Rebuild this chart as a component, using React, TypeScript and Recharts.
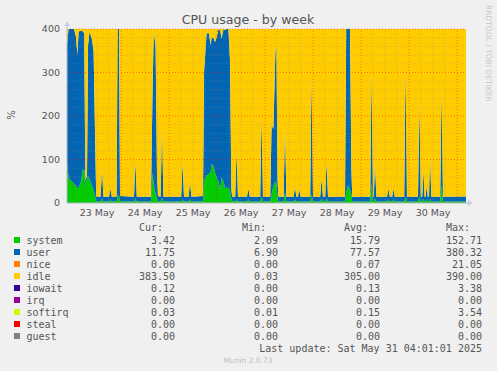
import React from "react";
import { AreaChart, Area, XAxis, YAxis, ReferenceLine } from "recharts";

// hours since 22 May 21:00 (one pixel = half an hour)
const HOURS = [
  0, 0.8, 2, 3.5, 4.5, 5.2, 5.8, 7, 7.8, 8.6, 9.2, 10, 10.5, 11.3, 12.5, 13.3, 14, 14.6,
  16.8, 17.5, 18.2, 21, 21.7, 22.4, 24.8, 25.3, 26, 26.5, 33.5, 34.2, 34.9,
  42, 42.8, 43.4, 44.3, 45, 45.5, 46.8, 47.5, 48.2, 57.1, 57.8, 58.5, 60.8, 61.5, 62.2,
  68, 68.5, 69.8, 71, 71.8, 72.3, 73.2, 74, 74.8, 75.7, 76.5, 77.3, 78.2, 79, 80, 80.7, 81.5, 82.2, 82.7,
  84.1, 84.8, 85.5, 90, 90.7, 91.4, 96.6, 97.3, 98, 101.6, 102.3, 103.2, 104.2, 104.7, 105.3, 105.8,
  108.3, 109, 109.7, 113.3, 114, 114.7, 115.5, 116.1, 116.8,
  121.6, 122.3, 123, 126.6, 127.3, 128, 129.1, 129.8, 130.5, 139, 139.6, 140.5, 141.5, 142.2, 142.6,
  151.6, 152.3, 153, 153.4, 154, 154.7, 160, 160.7, 161.4, 162.6, 163.2, 163.9, 168.6, 169.3, 170,
  175.5, 176.2, 176.9, 177.6, 178.2, 178.8, 179.3, 179.8, 180.4, 181, 181.5, 182.2, 186.6, 187.3, 188, 199.5,
];

const SYSTEM = [
  95, 58, 52, 45, 38, 35, 34, 50, 75, 78, 42, 55, 62, 55, 40, 30, 18, 4,
  3.5, 10, 3.5, 3.5, 8, 3.5, 4, 18, 16, 4, 3.5, 10, 3.5,
  3.5, 70, 40, 22, 10, 4, 3.5, 12, 3.5, 3.5, 8, 3.5, 3.5, 8, 3.5,
  4, 50, 63, 68, 70, 90, 85, 70, 58, 50, 30, 58, 50, 35, 35, 35, 30, 10, 3.5,
  3.5, 8, 3.5, 3.5, 8, 3.5, 3.5, 15, 3.5, 3.5, 20, 40, 50, 45, 10, 3.5,
  3.5, 25, 3.5, 3.5, 8, 3.5, 3.5, 6, 3.5,
  3.5, 20, 3.5, 3.5, 10, 3.5, 3.5, 10, 3.5, 3.5, 25, 40, 30, 20, 3.5,
  3.5, 45, 3.5, 3.5, 10, 3.5, 3.5, 8, 3.5, 3.5, 8, 3.5, 3.5, 15, 3.5,
  3.5, 15, 3.5, 3.5, 10, 3.5, 3.5, 8, 3.5, 3.5, 10, 3.5, 3.5, 40, 3.5, 3.4,
];

const USER = [
  270, 342, 348, 355, 344, 305, 360, 346, 320, 312, 10, 8, 300, 340, 336, 320, 150, 11,
  11, 70, 11, 11, 25, 11, 11, 382, 384, 12, 11, 85, 11,
  11, 200, 355, 338, 60, 12, 11, 160, 11, 11, 85, 11, 11, 40, 11,
  12, 250, 327, 322, 292, 290, 295, 300, 322, 348, 368, 320, 348, 363, 365, 365, 300, 20, 11,
  11, 110, 11, 11, 25, 11, 11, 185, 11, 11, 160, 130, 300, 315, 40, 11,
  11, 150, 11, 11, 28, 11, 11, 25, 11,
  11, 275, 11, 11, 45, 11, 11, 85, 11, 11, 375, 360, 370, 60, 11,
  11, 255, 11, 11, 80, 11, 11, 25, 11, 11, 25, 11, 11, 300, 11,
  11, 215, 11, 11, 65, 11, 11, 30, 11, 11, 95, 11, 11, 220, 11, 11.8,
];

const IDLE = [
  35, 0, 0, 0, 18, 60, 6, 4, 5, 10, 348, 337, 38, 5, 24, 50, 232, 385,
  385.5, 320, 385.5, 385.5, 367, 385.5, 385, 0, 0, 384, 385.5, 305, 385.5,
  385.5, 130, 5, 40, 330, 384, 385.5, 228, 385.5, 385.5, 307, 385.5, 385.5, 352, 385.5,
  384, 100, 10, 10, 38, 20, 20, 30, 20, 2, 2, 22, 2, 2, 0, 0, 70, 370, 385.5,
  385.5, 282, 385.5, 385.5, 367, 385.5, 385.5, 200, 385.5, 385.5, 220, 230, 50, 40, 350, 385.5,
  385.5, 225, 385.5, 385.5, 364, 385.5, 385.5, 369, 385.5,
  385.5, 105, 385.5, 385.5, 345, 385.5, 385.5, 305, 385.5, 385.5, 0, 0, 0, 320, 385.5,
  385.5, 100, 385.5, 385.5, 310, 385.5, 385.5, 367, 385.5, 385.5, 367, 385.5, 385.5, 85, 385.5,
  385.5, 170, 385.5, 385.5, 325, 385.5, 385.5, 362, 385.5, 385.5, 295, 385.5, 385.5, 140, 385.5, 384.8,
];

// day labels sit at noon
const DAY_TICKS = [15, 39, 63, 87, 111, 135, 159, 183];
const DAY_LABELS = ["23 May", "24 May", "25 May", "26 May", "27 May", "28 May", "29 May", "30 May"];
const Y_TICKS = [0, 100, 200, 300, 400];

const LEGEND_NAMES = ["system", "user", "nice", "idle", "iowait", "irq", "softirq", "steal", "guest"];
const LEGEND_COLORS = ["#00cc00", "#0066b3", "#ff8000", "#ffcc00", "#330099", "#990099", "#ccff00", "#ff0000", "#808080"];
const CUR = ["3.42", "11.75", "0.00", "383.50", "0.12", "0.00", "0.03", "0.00", "0.00"];
const MIN = ["2.09", "6.90", "0.00", "0.03", "0.00", "0.00", "0.01", "0.00", "0.00"];
const AVG = ["15.79", "77.57", "0.07", "305.00", "0.13", "0.00", "0.15", "0.00", "0.00"];
const MAX = ["152.71", "380.32", "21.05", "390.00", "3.38", "0.00", "3.54", "0.00", "0.00"];

const data = HOURS.map((t, i) => ({
  t,
  system: SYSTEM[i],
  user: USER[i],
  idle: IDLE[i],
}));

const TEXT = "#555555";
const SANS = "'DejaVu Sans', sans-serif";
const MONO = "'DejaVu Sans Mono', monospace";

const vGrid: { h: number; major: boolean }[] = [];
for (let h = 3; h <= 199; h += 6) vGrid.push({ h, major: (h - 3) % 24 === 0 });
const hGrid: { v: number; major: boolean }[] = [];
for (let v = 20; v <= 400; v += 20) hGrid.push({ v, major: v % 100 === 0 });

const COLS = [
  { head: "Cur:", vals: CUR, headX: 163, valX: 175 },
  { head: "Min:", vals: MIN, headX: 266, valX: 278 },
  { head: "Avg:", vals: AVG, headX: 368, valX: 380 },
  { head: "Max:", vals: MAX, headX: 470, valX: 482 },
];

export default function App() {
  return (
    <div
      style={{
        position: "absolute",
        left: 0,
        top: 0,
        width: 497,
        height: 371,
        background: "#f0f0f0",
        overflow: "hidden",
      }}
    >
      <AreaChart
        width={497}
        height={371}
        data={data}
        margin={{ top: 29, right: 31, bottom: 148, left: 7 }}
      >
        <XAxis
          dataKey="t"
          type="number"
          domain={[0, 199.5]}
          ticks={DAY_TICKS}
          tickFormatter={(v: number) => DAY_LABELS[DAY_TICKS.indexOf(v)] ?? ""}
          tick={{ fontFamily: SANS, fontSize: 9.5, fill: TEXT }}
          tickLine={false}
          tickSize={4}
          tickMargin={2}
          height={20}
          axisLine={{ stroke: "#b8b8c8" }}
          allowDataOverflow
        />
        <YAxis
          domain={[0, 400]}
          ticks={Y_TICKS}
          tick={{ fontFamily: SANS, fontSize: 9.5, fill: TEXT }}
          tickLine={false}
          tickSize={5}
          tickMargin={2}
          width={60}
          axisLine={{ stroke: "#b8b8c8" }}
          allowDataOverflow
        />
        <Area type="linear" dataKey="system" stackId="cpu" stroke="none" fill="#00cc00" fillOpacity={1} isAnimationActive={false} dot={false} activeDot={false} />
        <Area type="linear" dataKey="user" stackId="cpu" stroke="none" fill="#0066b3" fillOpacity={1} isAnimationActive={false} dot={false} activeDot={false} />
        <Area type="linear" dataKey="idle" stackId="cpu" stroke="none" fill="#ffcc00" fillOpacity={1} isAnimationActive={false} dot={false} activeDot={false} />
        {hGrid.map((g) => (
          <ReferenceLine
            key={"h" + g.v}
            y={g.v}
            stroke={g.major ? "#ff0000" : "#909090"}
            strokeOpacity={g.major ? 0.45 : 0.4}
            strokeDasharray="1 2"
          />
        ))}
        {vGrid.map((g) => (
          <ReferenceLine
            key={"v" + g.h}
            x={g.h}
            stroke={g.major ? "#ff0000" : "#909090"}
            strokeOpacity={g.major ? 0.45 : 0.4}
            strokeDasharray="1 2"
          />
        ))}
      </AreaChart>

      <svg
        width={497}
        height={371}
        style={{ position: "absolute", left: 0, top: 0, pointerEvents: "none" }}
      >
        <text x={248} y={24} textAnchor="middle" fontFamily={SANS} fontSize={12.6} fill={TEXT}>
          CPU usage - by week
        </text>
        <text
          x={0}
          y={0}
          transform="translate(15,115) rotate(-90)"
          textAnchor="middle"
          fontFamily={SANS}
          fontSize={10}
          fill={TEXT}
        >
          %
        </text>
        <text
          x={0}
          y={0}
          transform="translate(486,5) rotate(90)"
          fontFamily={SANS}
          fontSize={7.5}
          fill="#c8c8c8"
        >
          RRDTOOL / TOBI OETIKER
        </text>
        <line x1={67} y1={29} x2={67} y2={25} stroke="#b8b8c8" />
        <polygon points="64,26 70,26 67,21" fill="#c8ccf0" />
        <line x1={466} y1={203} x2={468} y2={203} stroke="#b8b8c8" />
        <polygon points="468,200 468,206 473,203" fill="#c8ccf0" />

        {COLS.map((c) => (
          <text key={c.head} x={c.headX} y={231} textAnchor="end" fontFamily={MONO} fontSize={10} fill={TEXT}>
            {c.head}
          </text>
        ))}
        {LEGEND_NAMES.map((name, i) => {
          const cy = 240 + i * 12;
          return (
            <g key={name}>
              <rect x={14} y={cy - 3} width={6} height={6} fill={LEGEND_COLORS[i]} />
              <text x={26.5} y={cy + 3.5} fontFamily={MONO} fontSize={10} fill={TEXT}>
                {name}
              </text>
              {COLS.map((c) => (
                <text key={c.head} x={c.valX} y={cy + 3.5} textAnchor="end" fontFamily={MONO} fontSize={10} fill={TEXT}>
                  {c.vals[i]}
                </text>
              ))}
            </g>
          );
        })}
        <text x={482} y={351.5} textAnchor="end" fontFamily={MONO} fontSize={10} fill={TEXT}>
          Last update: Sat May 31 04:01:01 2025
        </text>
        <text x={248} y={363} textAnchor="middle" fontFamily={SANS} fontSize={7.5} fill="#c0c0c0">
          Munin 2.0.73
        </text>
      </svg>
    </div>
  );
}
